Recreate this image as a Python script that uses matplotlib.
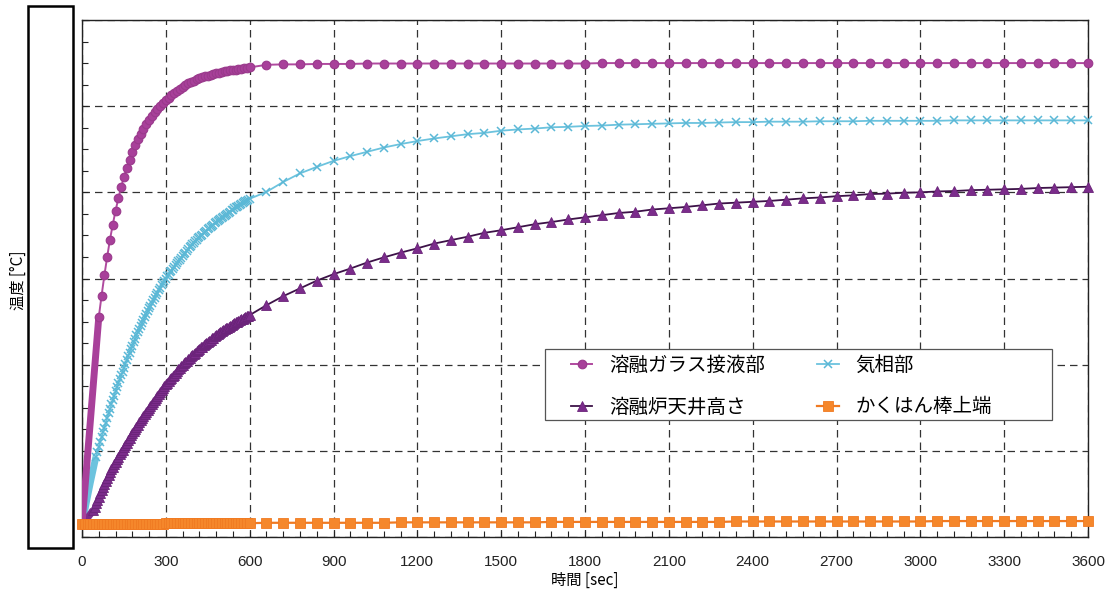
import numpy as np
import matplotlib
matplotlib.use('Agg')
import matplotlib.pyplot as plt
from matplotlib.patches import Rectangle
from matplotlib.ticker import MultipleLocator
from matplotlib import font_manager as fm

names = {f.name for f in fm.fontManager.ttflist}
num_font = 'Liberation Sans Narrow' if 'Liberation Sans Narrow' in names else 'Liberation Sans'
plt.rcParams['font.family'] = ['Noto Sans CJK JP', 'DejaVu Sans']

# ---------------- data ----------------
t_10 = list(range(0, 601, 10))          # 0..600 s, 10 s step
t_5 = list(range(0, 601, 5))            # 0..600 s, 5 s step
t_coarse = list(range(660, 3601, 60))   # 660..3600 s, 60 s step

labels = ['溶融ガラス接液部', '気相部', '溶融炉天井高さ', 'かくはん棒上端']

# 溶融ガラス接液部 (10 s step up to 600 s)
glass_fine = [30, 110, 190, 270, 350, 430,
              510, 560, 607, 650, 690, 725, 757, 786, 812, 836,
              857, 876, 893, 909, 923, 936, 948, 959, 969, 978,
              986, 994, 1001, 1008, 1014, 1020, 1026, 1031, 1036, 1041,
              1045, 1049, 1053, 1056, 1059, 1062, 1065, 1067, 1069, 1071,
              1073, 1075, 1077, 1078, 1080, 1081, 1082, 1083, 1084, 1085,
              1086, 1087, 1088, 1089, 1090]
glass_coarse = [1096, 1097, 1097, 1098, 1098, 1098, 1099, 1099, 1099, 1099,
                1099, 1099, 1099, 1099, 1099, 1099, 1099, 1099, 1099, 1099,
                1100, 1100, 1100, 1100, 1100, 1100, 1100, 1100, 1100, 1100,
                1100, 1100, 1100, 1100, 1100, 1100, 1100, 1100, 1100, 1100,
                1100, 1100, 1100, 1100, 1100, 1100, 1100, 1100, 1100, 1100]

# 気相部 (5 s step up to 600 s)
gas_fine = [30, 46, 62, 79, 95, 111, 127, 142, 157, 172,
            186, 198, 209, 221, 232, 243, 254, 265, 276, 287,
            297, 308, 318, 328, 338, 348, 357, 366, 375, 384,
            393, 402, 411, 420, 428, 436, 444, 452, 460, 468,
            475, 483, 490, 497, 504, 511, 518, 525, 531, 537,
            543, 549, 555, 561, 567, 573, 579, 585, 590, 595,
            600, 605, 609, 614, 618, 623, 627, 632, 636, 640,
            644, 648, 652, 656, 660, 664, 668, 672, 675, 679,
            682, 686, 689, 693, 696, 699, 702, 705, 708, 711,
            714, 717, 720, 723, 725, 728, 730, 733, 735, 738,
            740, 743, 745, 748, 750, 753, 755, 758, 760, 763,
            765, 767, 769, 771, 773, 775, 777, 779, 781, 783,
            785]
gas_coarse = [801, 824, 844, 859, 873, 884, 894, 904, 912, 919,
              925, 930, 935, 938, 943, 946, 948, 951, 952, 954,
              955, 957, 958, 959, 960, 961, 961, 962, 963, 963,
              964, 964, 964, 965, 965, 965, 966, 966, 966, 966,
              966, 967, 967, 967, 967, 967, 967, 967, 967, 967]

# 溶融炉天井高さ (5 s step up to 600 s)
roof_fine = [25, 30, 35, 40, 44, 49, 53, 58, 63, 70,
             78, 85, 93, 101, 109, 116, 123, 130, 137, 144,
             150, 157, 163, 169, 175, 181, 186, 192, 197, 203,
             208, 214, 219, 225, 230, 236, 241, 246, 251, 256,
             261, 266, 271, 276, 281, 286, 290, 295, 300, 305,
             309, 314, 318, 323, 327, 332, 336, 341, 345, 350,
             354, 358, 362, 366, 370, 374, 377, 381, 385, 389,
             392, 396, 399, 403, 406, 409, 412, 416, 419, 422,
             425, 428, 431, 434, 437, 440, 442, 445, 448, 451,
             453, 456, 458, 461, 463, 466, 468, 471, 473, 475,
             477, 480, 482, 484, 486, 488, 490, 492, 494, 496,
             498, 500, 502, 504, 505, 507, 509, 511, 512, 514,
             515]
roof_coarse = [538, 559, 577, 595, 610, 623, 637, 649, 660, 670,
               681, 689, 697, 706, 712, 719, 726, 731, 737, 742,
               747, 752, 755, 760, 763, 766, 770, 774, 776, 778,
               780, 783, 786, 788, 791, 793, 796, 797, 799, 800,
               802, 803, 805, 806, 807, 808, 810, 811, 812, 813]

# かくはん棒上端 (10 s step up to 600 s)
stir_fine = [31] * 30 + [32] * 31
stir_coarse = [33, 33, 33, 33, 33, 33, 33, 33, 34, 34,
               34, 34, 34, 34, 34, 34, 34, 35, 35, 35,
               35, 35, 35, 35, 35, 35, 35, 35, 36, 36,
               36, 36, 36, 36, 36, 36, 36, 36, 36, 36,
               37, 37, 37, 37, 37, 37, 37, 37, 37, 37]

x_ticks = list(range(0, 3601, 300))

# ---------------- figure ----------------
W, H = 1110, 598
fig = plt.figure(figsize=(W / 100, H / 100), dpi=100)
ax = fig.add_axes([82 / W, 1 - 537 / H, 1006 / W, 517 / H])

styles = [
    dict(t=t_10 + t_coarse, v=glass_fine + glass_coarse, k=6, lc='#B04A9F', mc='#A8409A',
         mec='#9A3A8C', marker='o', ms=6.2, mew=0.8, lw=1.4, thick=5.0, z=4),
    dict(t=t_5 + t_coarse, v=gas_fine + gas_coarse, k=10, lc='#6CC3DE', mc='#6CC3DE',
         mec='#5BB8D6', marker='x', ms=6, mew=1.1, lw=1.3, thick=5.0, z=3),
    dict(t=t_5 + t_coarse, v=roof_fine + roof_coarse, k=8, lc='#3D1248', mc='#7B2C8B',
         mec='#6A2379', marker='^', ms=6.5, mew=0.6, lw=1.3, thick=5.0, z=3.5),
    dict(t=t_10 + t_coarse, v=stir_fine + stir_coarse, k=0, lc='#F07A22', mc='#F5872B',
         mec='#F07A22', marker='s', ms=7.0, mew=0.6, lw=1.6, thick=0, z=5),
]

handles = []
for st, lab in zip(styles, labels):
    t, v, k = st['t'], st['v'], st['k']
    if k > 0:
        ax.plot(t[:k + 1], v[:k + 1], color=st['mc'], lw=st['thick'],
                solid_capstyle='butt', zorder=st['z'])
    h, = ax.plot(t[k:], v[k:], color=st['lc'], lw=st['lw'], marker=st['marker'],
                 ms=st['ms'], mfc=st['mc'], mec=st['mec'], mew=st['mew'],
                 zorder=st['z'], label=lab, clip_on=False)
    handles.append(h)

ax.set_xlim(0, 3600)
ax.set_ylim(0, 1200)
ax.set_xticks(x_ticks)
ax.xaxis.set_minor_locator(MultipleLocator(60))
ax.yaxis.set_major_locator(MultipleLocator(200))
ax.yaxis.set_minor_locator(MultipleLocator(50))
ax.tick_params(which='both', direction='in', length=4, width=0.8, top=False, right=False,
               labelleft=False, colors='#222222')
ax.tick_params(axis='x', which='major', pad=13, labelsize=11)
for lbl in ax.get_xticklabels():
    lbl.set_fontfamily(num_font)
ax.grid(True, which='major', color='#333333', ls=(0, (6, 4)), lw=0.9)
ax.set_axisbelow(True)
for sp in ax.spines.values():
    sp.set_color('#222222')
    sp.set_linewidth(1.0)

fig.text(585 / W, 1 - 580 / H, '時間 [sec]', ha='center', va='center', fontsize=11)
fig.text(18 / W, 1 - 280 / H, '温度 [°C]', ha='center', va='center', fontsize=11, rotation=90)

fig.patches.append(Rectangle((28 / W, 1 - 548 / H), 45 / W, 542 / H, transform=fig.transFigure,
                             fill=False, ec='black', lw=1.8))

# legend box and entries
frame = Rectangle(((545 - 82) / 1006, (537 - 420) / 517), 507 / 1006, 71 / 517,
                  transform=ax.transAxes, fc='white', ec='#555555', lw=0.9, zorder=9,
                  clip_on=False)
ax.add_patch(frame)
leg = ax.legend(handles=[handles[0], handles[2], handles[1], handles[3]], ncol=2,
                loc='upper left', bbox_to_anchor=((571 - 82) / 1006, (537 - 355) / 517),
                borderaxespad=0, borderpad=0, fontsize=14, frameon=False,
                handlelength=1.1, handletextpad=0.85, columnspacing=2.7, labelspacing=1.05)
leg.set_zorder(10)

fig.savefig('out.png', dpi=100)
